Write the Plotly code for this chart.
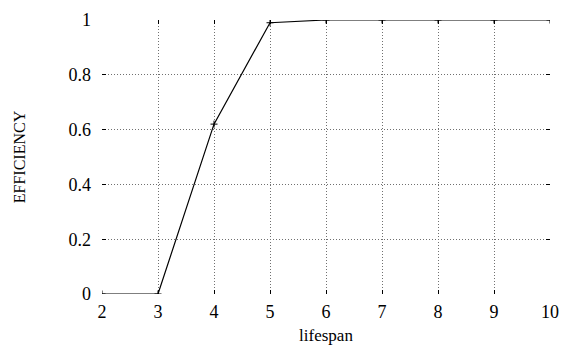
import plotly.graph_objects as go

# lifespan vs. efficiency
lifespan = [2, 3, 4, 5, 6, 7, 8, 9, 10]
efficiency = [0.0, 0.0, 0.62, 0.99, 1.0, 1.0, 1.0, 1.0, 1.0]

x_ticks = [2, 3, 4, 5, 6, 7, 8, 9, 10]
y_ticks = [0, 0.2, 0.4, 0.6, 0.8, 1]
y_tick_text = ["0", "0.2", "0.4", "0.6", "0.8", "1"]

font_family = "Liberation Serif, Times New Roman, serif"

fig = go.Figure()
fig.add_trace(go.Scatter(
    x=lifespan, y=efficiency,
    mode="lines+markers",
    line=dict(color="black", width=1.2),
    marker=dict(symbol="cross-thin", size=5, line=dict(color="black", width=1)),
    showlegend=False,
))

axis_common = dict(
    automargin=False,
    showline=False,
    zeroline=False,
    showgrid=True,
    gridcolor="#707070",
    griddash="1px,2px",
    gridwidth=1,
    ticks="inside",
    ticklen=4,
    tickwidth=1,
    tickcolor="black",
    mirror="ticks",
    tickfont=dict(family=font_family, size=18, color="black"),
)

fig.update_xaxes(
    range=[2, 10], tickvals=x_ticks,
    ticklabelstandoff=5,
    title=dict(text="lifespan", font=dict(family=font_family, size=17, color="black"), standoff=8),
    **axis_common,
)
fig.update_yaxes(
    range=[0, 1], tickvals=y_ticks, ticktext=y_tick_text,
    ticklabelstandoff=10,
    title=dict(text="EFFICIENCY", font=dict(family=font_family, size=16, color="black"), standoff=38),
    **axis_common,
)

fig.update_layout(
    width=566, height=345,
    margin=dict(l=102, r=16, t=20, b=51),
    paper_bgcolor="white",
    plot_bgcolor="white",
    font=dict(family=font_family, color="black"),
)

fig.write_html("out.html")
